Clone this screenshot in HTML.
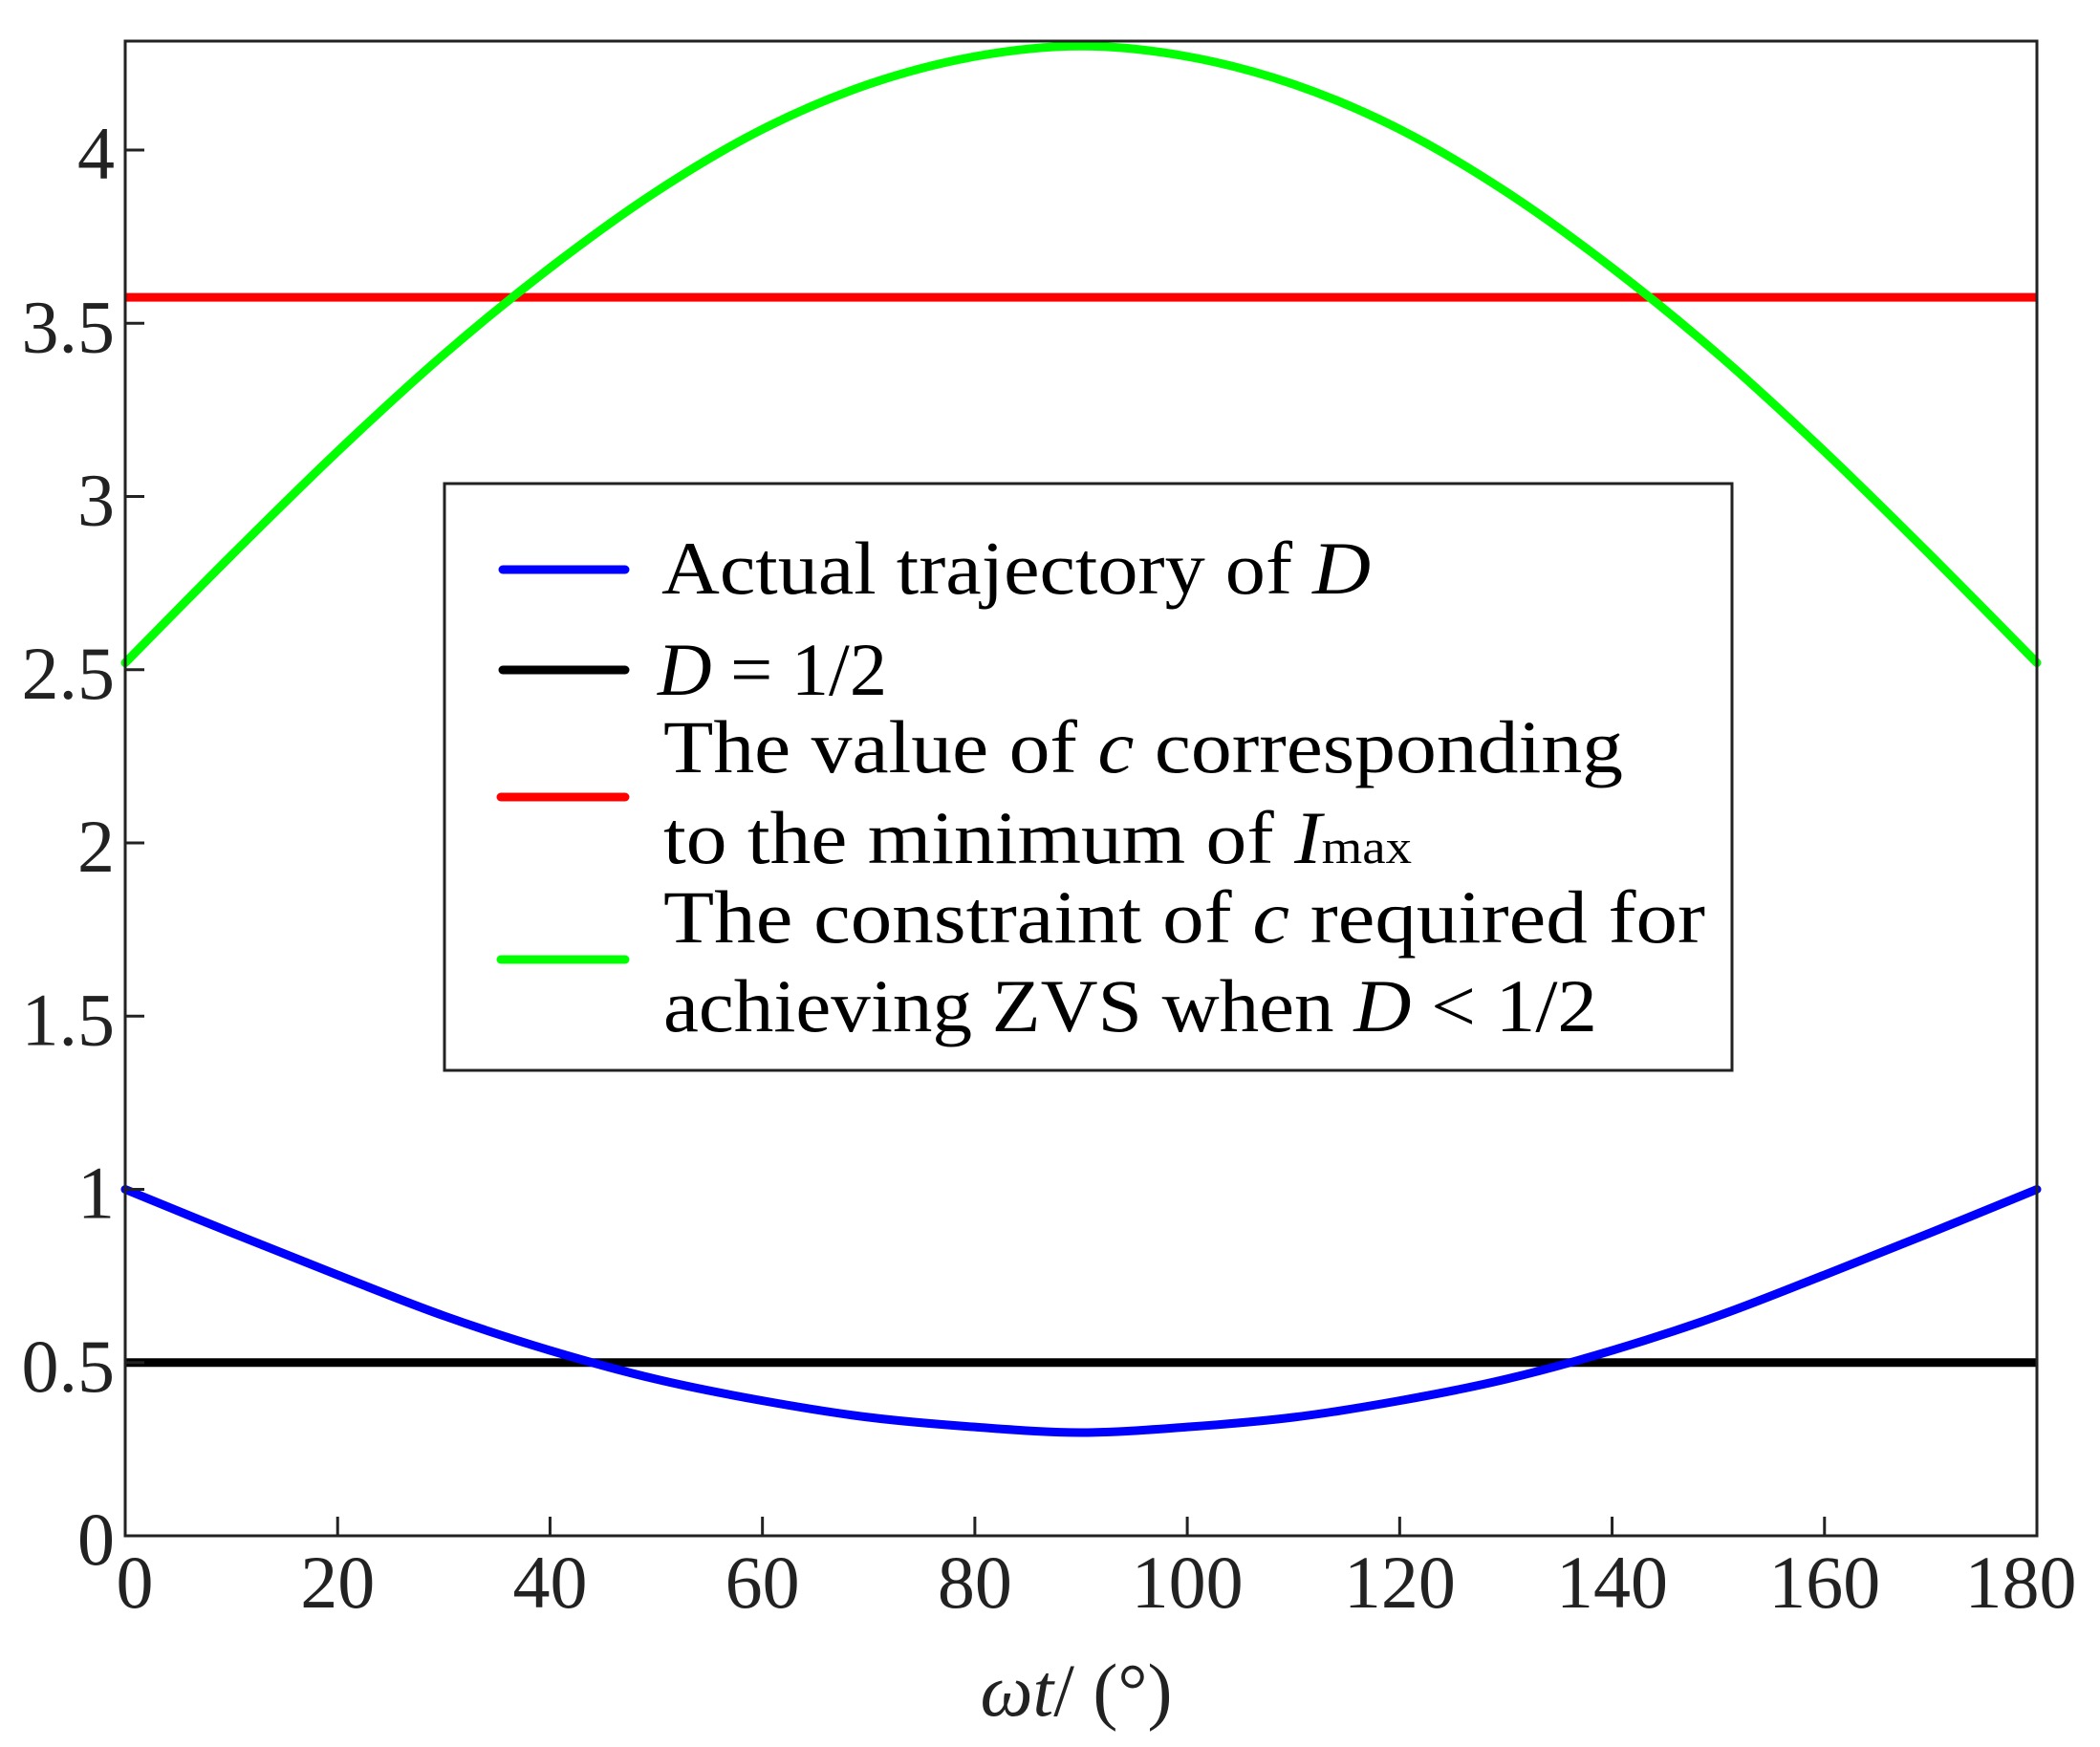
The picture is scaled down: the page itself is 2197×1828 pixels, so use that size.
<!DOCTYPE html>
<html><head><meta charset="utf-8"><style>
html,body{margin:0;padding:0;background:#fff;}
svg{display:block;font-family:"Liberation Serif",serif;}
</style></head><body>
<svg id="chart" width="2197" height="1828" viewBox="0 0 2197 1828" xmlns="http://www.w3.org/2000/svg">
<rect x="0" y="0" width="2197" height="1828" fill="#fff"/>
<g id="marks"></g>
<g id="axes"></g>
<g id="legend">
  <rect x="465" y="506" width="1347" height="614" fill="#fff" stroke="#222" stroke-width="3"/>
  <line x1="526" y1="596" x2="654" y2="596" stroke="#0000ff" stroke-width="9" stroke-linecap="round"/>
  <text x="692" y="621" font-size="78" textLength="742" lengthAdjust="spacingAndGlyphs">Actual trajectory of <tspan font-style="italic">D</tspan></text>
  <line x1="526" y1="701" x2="654" y2="701" stroke="#000" stroke-width="9" stroke-linecap="round"/>
  <text x="688" y="727" font-size="78" textLength="240" lengthAdjust="spacingAndGlyphs"><tspan font-style="italic">D</tspan> = 1/2</text>
  <line x1="524" y1="834" x2="654" y2="834" stroke="#ff0000" stroke-width="9" stroke-linecap="round"/>
  <text x="694" y="808" font-size="78" textLength="1004" lengthAdjust="spacingAndGlyphs">The value of <tspan font-style="italic">c</tspan> corresponding</text>
  <text x="694" y="903" font-size="78" textLength="783" lengthAdjust="spacingAndGlyphs">to the minimum of <tspan font-style="italic">I</tspan><tspan font-size="50">max</tspan></text>
  <line x1="524" y1="1004" x2="654" y2="1004" stroke="#00ff00" stroke-width="9" stroke-linecap="round"/>
  <text x="694" y="986" font-size="78" textLength="1090" lengthAdjust="spacingAndGlyphs">The constraint of  <tspan font-style="italic">c</tspan> required for</text>
  <text x="694" y="1079" font-size="78" textLength="977" lengthAdjust="spacingAndGlyphs">achieving ZVS when <tspan font-style="italic">D</tspan> &lt; 1/2</text>
</g>
</svg>
<script>
const xValues = [0,10,20,30,40,50,60,70,80,90,100,110,120,130,140,150,160,170,180];
const blueValues = [1.0,0.875,0.753,0.635,0.535,0.452,0.39,0.342,0.314,0.298,0.314,0.342,0.39,0.452,0.535,0.635,0.753,0.875,1.0];
const greenValues = [2.52,2.83,3.13,3.41,3.66,3.88,4.06,4.19,4.27,4.30,4.27,4.19,4.06,3.88,3.66,3.41,3.13,2.83,2.52];
const redValue = [3.575];
const blackValue = [0.5];
const xTicks = [0,20,40,60,80,100,120,140,160,180];
const yTicks = [0,0.5,1,1.5,2,2.5,3,3.5,4];
const yTickLabels = ["0","0.5","1","1.5","2","2.5","3","3.5","4"];

const L=131,R=2131,T=43,B=1607;
const xs=v=>L+(v-0)/(180-0)*(R-L);
const ys=v=>B-(v/4)*(B-157);
const NS="http://www.w3.org/2000/svg";
const marks=document.getElementById('marks');
const axes=document.getElementById('axes');
function mk(tag,attrs,parent){const e=document.createElementNS(NS,tag);for(const k in attrs)e.setAttribute(k,attrs[k]);parent.appendChild(e);return e;}

function smoothPath(xv,yv){
  const p=xv.map((x,i)=>[xs(x),ys(yv[i])]);
  let d=`M${p[0][0]},${p[0][1]}`;
  for(let i=0;i<p.length-1;i++){
    const p0=p[i-1]||p[i],p1=p[i],p2=p[i+1],p3=p[i+2]||p2;
    const c1=[p1[0]+(p2[0]-p0[0])/6,p1[1]+(p2[1]-p0[1])/6];
    const c2=[p2[0]-(p3[0]-p1[0])/6,p2[1]-(p3[1]-p1[1])/6];
    d+=` C${c1[0]},${c1[1]} ${c2[0]},${c2[1]} ${p2[0]},${p2[1]}`;
  }
  return d;
}
const redLine=mk('line',{x1:xs(0),x2:xs(180),y1:ys(redValue[0]),y2:ys(redValue[0]),stroke:'#ff0000','stroke-width':9},marks);


const blackLine=mk('line',{x1:xs(0),x2:xs(180),y1:ys(blackValue[0]),y2:ys(blackValue[0]),stroke:'#000','stroke-width':9},marks);


const green=mk('path',{d:smoothPath(xValues,greenValues),fill:'none',stroke:'#00ff00','stroke-width':9,'stroke-linecap':'round'},marks);


const blue=mk('path',{d:smoothPath(xValues,blueValues),fill:'none',stroke:'#0000ff','stroke-width':9,'stroke-linecap':'round'},marks);



const frame=mk('rect',{x:L,y:T,width:R-L,height:B-T,fill:'none',stroke:'#222','stroke-width':3},axes);


xTicks.forEach(v=>{
  const t=mk('line',{x1:xs(v),x2:xs(v),y1:B,y2:B-20,stroke:'#222','stroke-width':3},axes);
  
  
  const lx=Math.min(Math.max(xs(v),L+10),R-17);
  const lb=mk('text',{x:lx,y:1682,'font-size':78,'text-anchor':'middle',fill:'#222'},axes);
  lb.textContent=String(v);
  
  
});
yTicks.forEach((v,i)=>{
  const t=mk('line',{x1:L,x2:L+20,y1:ys(v),y2:ys(v),stroke:'#222','stroke-width':3},axes);
  
  
  const lb=mk('text',{x:120,y:ys(v)+30,'font-size':78,'text-anchor':'end',fill:'#222'},axes);
  lb.textContent=yTickLabels[i];
  
  
});
const xt=mk('text',{x:1126,y:1795,'font-size':78,'text-anchor':'middle',fill:'#222'},axes);
xt.innerHTML='<tspan font-style="italic">ωt</tspan>/ (°)';


</script>
</body></html>
